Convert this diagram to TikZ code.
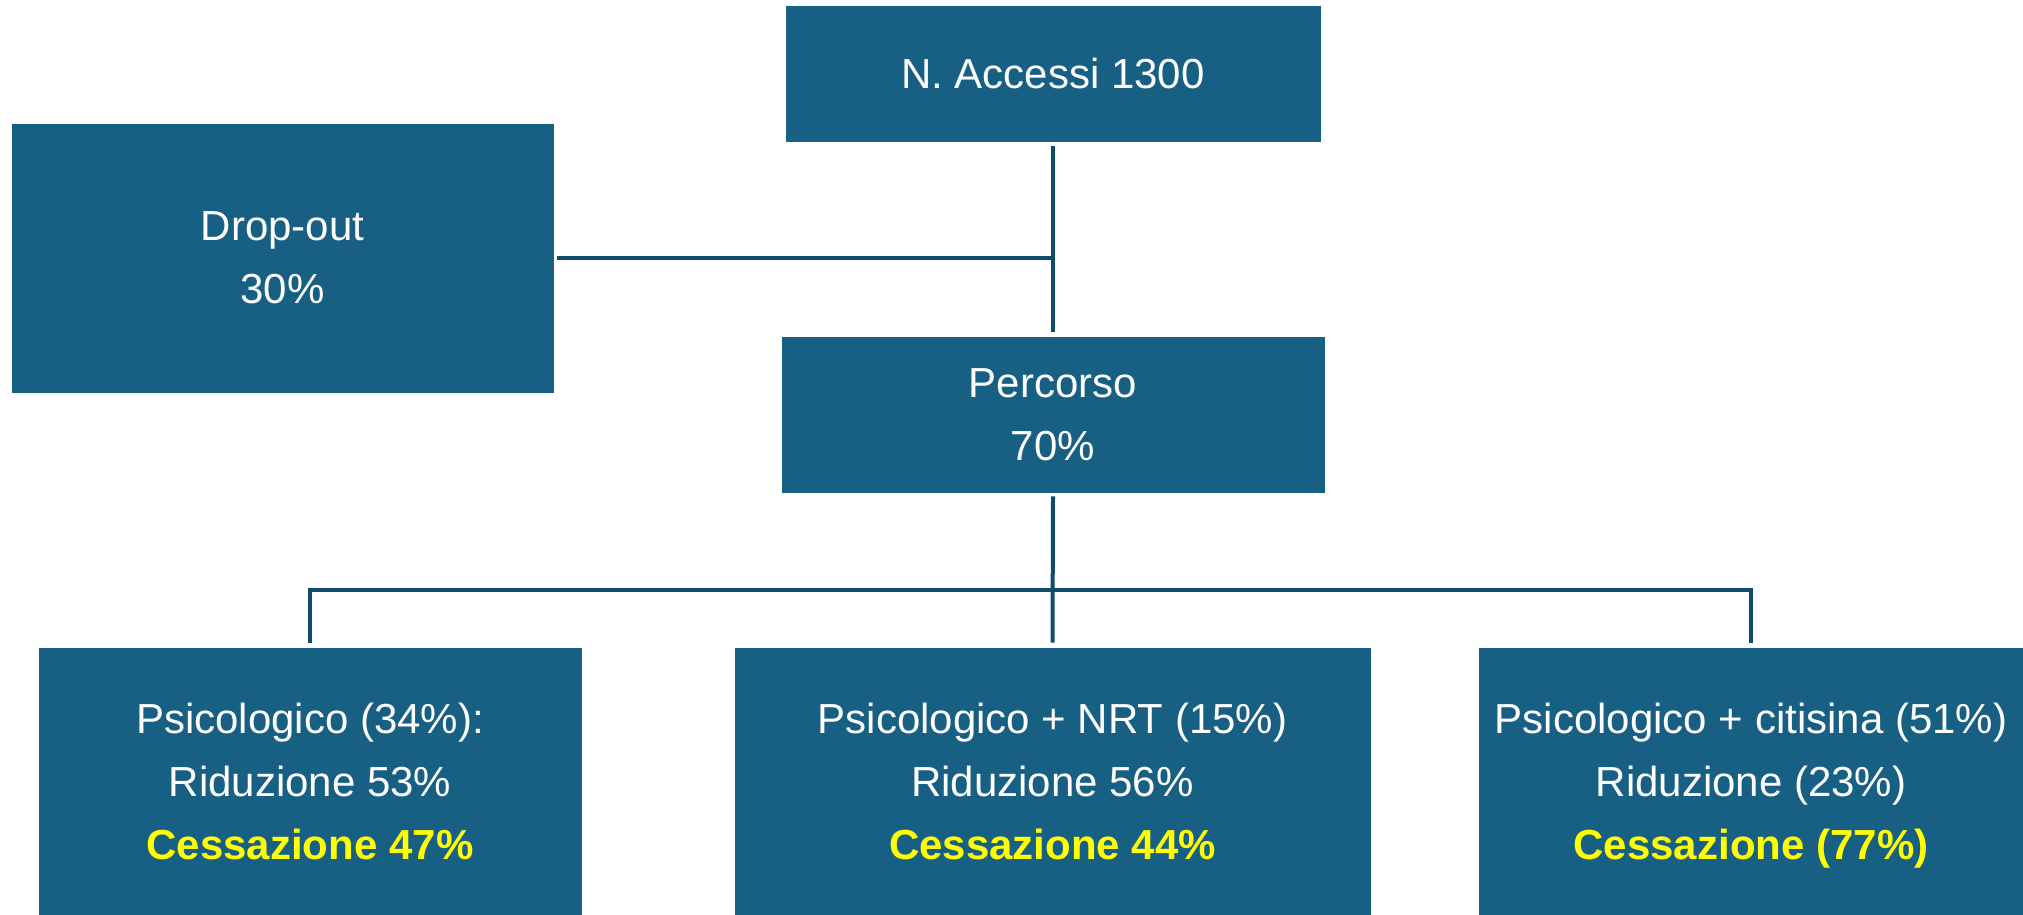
\documentclass[tikz,border=0pt]{standalone}
\usepackage{fontspec}
\setmainfont{Liberation Sans}
\definecolor{boxblue}{HTML}{176083}
\definecolor{linec}{HTML}{0F4C6B}
\definecolor{hl}{HTML}{FFFF00}
\begin{document}
\begin{tikzpicture}[x=0.5pt,y=-0.5pt,
  box/.style={fill=boxblue, draw=boxblue, inner sep=0pt, text=white, align=center,
    font=\fontsize{21}{31.3}\selectfont},
  conn/.style={draw=linec, line width=2pt, line join=miter}]
\useasboundingbox (0,0) rectangle (2023,915);
\node[box, minimum width=267pt, minimum height=67.5pt] (acc) at (1053,73.5) {N. Accessi 1300};
\node[box, minimum width=270.5pt, minimum height=134pt] (drop) at (282.5,258) {Drop-out\\30\%};
\node[box, minimum width=271pt, minimum height=77.5pt] (perc) at (1053,414.5) {Percorso\\70\%};
\node[box, minimum width=271pt, minimum height=133.5pt] (b1) at (310,781.5)
  {Psicologico (34\%):\\Riduzione 53\%\\{\bfseries\color{hl}Cessazione 47\%}};
\node[box, minimum width=317.5pt, minimum height=133.5pt] (b2) at (1052.5,781.5)
  {Psicologico + NRT (15\%)\\Riduzione 56\%\\{\bfseries\color{hl}Cessazione 44\%}};
\node[box, minimum width=272pt, minimum height=133.5pt] (b3) at (1751,781.5)
  {Psicologico + citisina (51\%)\\Riduzione (23\%)\\{\bfseries\color{hl}Cessazione \smash{(77\%)}}};
\coordinate (j1) at (1054,258);
\coordinate (bus) at (1054,590);
\draw[conn] ([yshift=-2.5pt]acc.south) -- ([yshift=2.5pt]perc.north);
\draw[conn] ([xshift=2pt]drop.east) -- (j1);
\draw[conn] ([yshift=-2pt]perc.south) -- ([yshift=2.5pt]b2.north);
\draw[conn] ([yshift=2.5pt]b1.north) -- (b1.north |- bus) -- (b3.north |- bus) -- ([yshift=2.5pt]b3.north);
\end{tikzpicture}
\end{document}
